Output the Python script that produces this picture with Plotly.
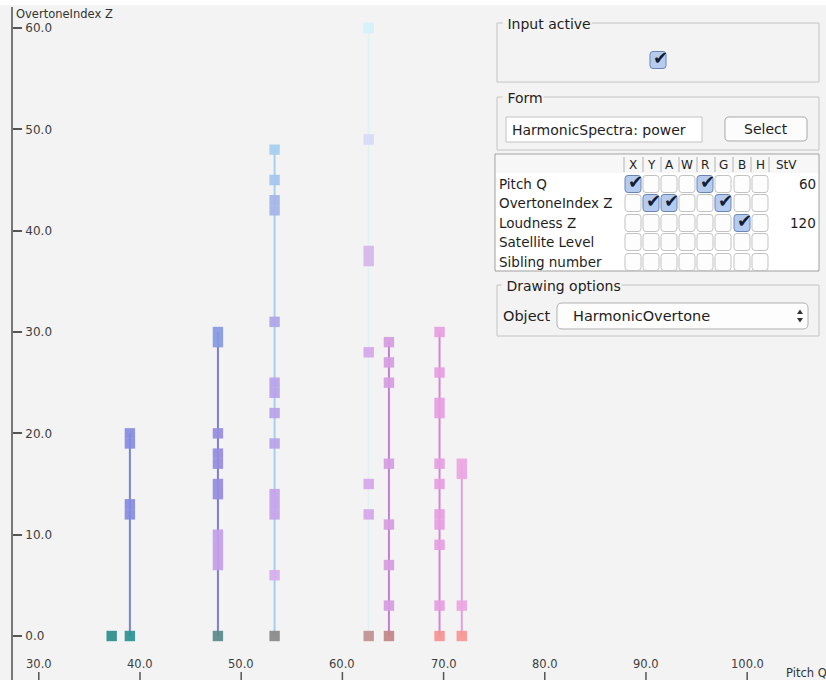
import plotly.graph_objects as go

W, H = 826, 680

# ---------------- data ----------------
pitch_q = [37.2, 39.0, 47.7, 53.3, 62.6, 64.6, 69.6, 71.8]
ot_a = [0]
ot_b = [0, 12, 13, 19, 20]
ot_c = [0, 7, 8, 9, 10, 14, 15, 17, 18, 20, 29, 30]
ot_d = [0, 6, 12, 13, 14, 19, 22, 24, 25, 31, 42, 43, 45, 48]
ot_e = [0, 12, 15, 28, 37, 38, 49, 60]
ot_f = [0, 3, 7, 11, 17, 25, 27, 29]
ot_g = [0, 3, 9, 11, 12, 15, 17, 22, 23, 26, 30]
ot_h = [0, 3, 16, 17]
overtones = [ot_a, ot_b, ot_c, ot_d, ot_e, ot_f, ot_g, ot_h]

x_tick_vals = [30, 40, 50, 60, 70, 80, 90, 100]
y_tick_vals = [0, 10, 20, 30, 40, 50, 60]

table_rows = ["Pitch Q", "OvertoneIndex Z", "Loudness Z", "Satellite Level", "Sibling number"]
table_cols = ["X", "Y", "A", "W", "R", "G", "B", "H"]
checked = {(0, 0), (0, 4), (1, 1), (1, 2), (1, 5), (2, 6)}
stv_vals = {0: "60", 2: "120"}

# ---------------- styles ----------------
BG = "#f3f3f3"
FONT = "DejaVu Sans"
base_colors = ["#2b8d8a", "#2a9292", "#5a8989", "#888888", "#c09090", "#c28686", "#f59292", "#f89494"]
line_colors = [None, "#7684d8", "#7a7ed4", "#a6d0ee", "#e0f2f8", "#c67cd8", "#d684d8", "#e2a0e2"]
upper_styles = {
    1: [(99, "#868cdf")],
    2: [(10, "#c49ee8"), (20, "#968cdf"), (99, "#8698e1")],
    3: [(6, "#d6aeee"), (14, "#c6a2ea"), (25, "#b8a2ea"), (31, "#aea4e8"), (43, "#a4b4e8"), (45, "#a4c4ee"), (99, "#a4ceF0")],
    4: [(28, "#d6a6ea"), (38, "#d6b6ec"), (49, "#d6daf6"), (99, "#d6f0f8")],
    5: [(99, "#d69ce2")],
    6: [(99, "#e69ee2")],
    7: [(99, "#eca6e2")],
}


def point_color(ci, n):
    if n == 0:
        return base_colors[ci]
    for lim, c in upper_styles[ci]:
        if n <= lim:
            return c
    return base_colors[ci]


fig = go.Figure()

# vertical stems (drawn below the markers)
for ci, (p, ots) in enumerate(zip(pitch_q, overtones)):
    if len(ots) < 2:
        continue
    fig.add_trace(go.Scatter(
        x=[p, p], y=[min(ots), max(ots)], mode="lines",
        line=dict(color=line_colors[ci], width=2),
        hoverinfo="skip", showlegend=False))

# markers
for ci, (p, ots) in enumerate(zip(pitch_q, overtones)):
    fig.add_trace(go.Scatter(
        x=[p] * len(ots), y=ots, mode="markers",
        marker=dict(symbol="square", size=10.4, color=[point_color(ci, n) for n in ots],
                    opacity=0.92, line=dict(width=0)),
        hoverinfo="skip", showlegend=False))

# ---------------- pixel helpers ----------------
def px(x):
    return x / W


def py(y):
    return 1 - y / H


shapes = []
annotations = []


def rect(x0, y0, x1, y1, fill, line, lw=1):
    shapes.append(dict(type="rect", xref="paper", yref="paper",
                       x0=px(x0), x1=px(x1), y0=py(y1), y1=py(y0),
                       fillcolor=fill, line=dict(color=line, width=lw), layer="above"))


def rrect(x0, y0, x1, y1, r, fill, line, lw=1):
    def P(x, y):
        return f"{px(x):.5f},{py(y):.5f}"
    d = (f"M {P(x0 + r, y0)} L {P(x1 - r, y0)} Q {P(x1, y0)} {P(x1, y0 + r)} "
         f"L {P(x1, y1 - r)} Q {P(x1, y1)} {P(x1 - r, y1)} "
         f"L {P(x0 + r, y1)} Q {P(x0, y1)} {P(x0, y1 - r)} "
         f"L {P(x0, y0 + r)} Q {P(x0, y0)} {P(x0 + r, y0)} Z")
    shapes.append(dict(type="path", xref="paper", yref="paper", path=d,
                       fillcolor=fill, line=dict(color=line, width=lw), layer="above"))


def line(x0, y0, x1, y1, color, lw=1):
    shapes.append(dict(type="line", xref="paper", yref="paper",
                       x0=px(x0), x1=px(x1), y0=py(y0), y1=py(y1),
                       line=dict(color=color, width=lw), layer="above"))


def text(x, y, s, size=14, anchor="left", color="#1e1e1e", bg=None):
    a = dict(xref="paper", yref="paper", x=px(x), y=py(y), text=s, showarrow=False,
             xanchor=anchor, yanchor="middle", borderpad=0,
             font=dict(family=FONT, size=size, color=color))
    if bg:
        a["bgcolor"] = bg
    annotations.append(a)


def checkbox(cx, cy, on, w=16, h=17):
    if on:
        rrect(cx - w / 2, cy - h / 2, cx + w / 2, cy + h / 2, 3, "#b6ccef", "#6a84b8")
        text(cx + 2, cy - 2.5, "✔", size=18, anchor="center", color="#141d33")
    else:
        rrect(cx - w / 2, cy - h / 2, cx + w / 2, cy + h / 2, 3, "#fdfdfd", "#c2c2c2")


# white strip at the top
rect(0, 0, W, 5, "#ffffff", "#ffffff", 0)

# group boxes
GB = "#c4c4c4"
rect(497, 23, 819, 82, "rgba(0,0,0,0)", GB)
text(502, 24, " Input active", size=14, bg=BG)
checkbox(658, 60, True)

rect(497, 97, 819, 150, "rgba(0,0,0,0)", GB)
text(502, 98, " Form", size=14, bg=BG)
rect(506, 117, 702, 142, "#ffffff", "#c2c2c2")
text(511, 130, "HarmonicSpectra: power", size=14)
rrect(725, 117, 807, 141, 4, "#fcfcfc", "#a9a9a9")
text(766, 129, "Select", size=14, anchor="center")

# table
rect(495, 154, 819, 271, "#ffffff", "#9f9f9f")
rect(496, 155, 818, 173, "#f7f7f7", "#f7f7f7", 0)
col_x = [633, 651, 669, 687, 705, 723, 742, 760]
sep_x = [624, 643, 661, 679, 697, 715, 733, 751, 769]
for sx in sep_x:
    line(sx, 157, sx, 172, "#b3b3b3")
for lbl, cx in zip(table_cols, col_x):
    text(cx, 165, lbl, size=12, anchor="center")
text(786, 165, "StV", size=12, anchor="center")
row_y = [184, 203, 223, 242, 262]
for ri, (lbl, ry) in enumerate(zip(table_rows, row_y)):
    text(498, ry, lbl, size=13.5)
    for cj, cx in enumerate(col_x):
        checkbox(cx, ry, (ri, cj) in checked)
    if ri in stv_vals:
        text(817, ry, stv_vals[ri], size=13.5, anchor="right")

# drawing options
rect(497, 285, 819, 336, "rgba(0,0,0,0)", GB)
text(501, 286, " Drawing options", size=14, bg=BG)
text(502, 316, "Object", size=14.5)
rrect(557, 303, 808, 329, 5, "#fdfdfd", "#b2b2b2")
text(572, 316, "HarmonicOvertone", size=14.5)
shapes.append(dict(type="path", xref="paper", yref="paper",
                   path=f"M {px(797):.5f},{py(314):.5f} L {px(803):.5f},{py(314):.5f} L {px(800):.5f},{py(309.5):.5f} Z",
                   fillcolor="#333333", line=dict(width=0), layer="above"))
shapes.append(dict(type="path", xref="paper", yref="paper",
                   path=f"M {px(797):.5f},{py(318):.5f} L {px(803):.5f},{py(318):.5f} L {px(800):.5f},{py(322.5):.5f} Z",
                   fillcolor="#333333", line=dict(width=0), layer="above"))

# axis titles
text(15, 14, "OvertoneIndex Z", size=11.5, color="#333333")
text(785, 673, "Pitch Q", size=11.5, color="#333333")

# x tick labels above short tick marks at the bottom edge
for v in x_tick_vals:
    annotations.append(dict(xref="x", yref="paper", x=v, y=py(664), text=f"{v:.1f}",
                            showarrow=False, xanchor="center", yanchor="middle", borderpad=0,
                            font=dict(family=FONT, size=11.5, color="#404040")))
    shapes.append(dict(type="line", xref="x", yref="paper", x0=v, x1=v, y0=py(680), y1=py(672),
                       line=dict(color="#555555", width=1.5), layer="above"))

fig.update_layout(
    width=W, height=H, autosize=False,
    margin=dict(l=0, r=0, t=0, b=0, pad=0),
    paper_bgcolor=BG, plot_bgcolor=BG,
    shapes=shapes, annotations=annotations,
    xaxis=dict(domain=[13 / W, 1], range=[27.45, 107.79], showgrid=False, zeroline=False,
               showline=False, ticks="", showticklabels=False, fixedrange=True),
    yaxis=dict(domain=[0, 0.99], range=[-4.342, 62.763 - 0.01 * 67.105], showgrid=False, zeroline=False,
               showline=True, linecolor="#777777", linewidth=1.5,
               ticks="inside", ticklen=9, tickwidth=1.5, tickcolor="#555555",
               ticklabelposition="inside", ticklabelstandoff=3, tickvals=y_tick_vals,
               ticktext=[f"{v:.1f}" for v in y_tick_vals],
               tickfont=dict(family=FONT, size=12, color="#404040"), fixedrange=True),
)

fig.write_html("out.html", config={"displayModeBar": False})
